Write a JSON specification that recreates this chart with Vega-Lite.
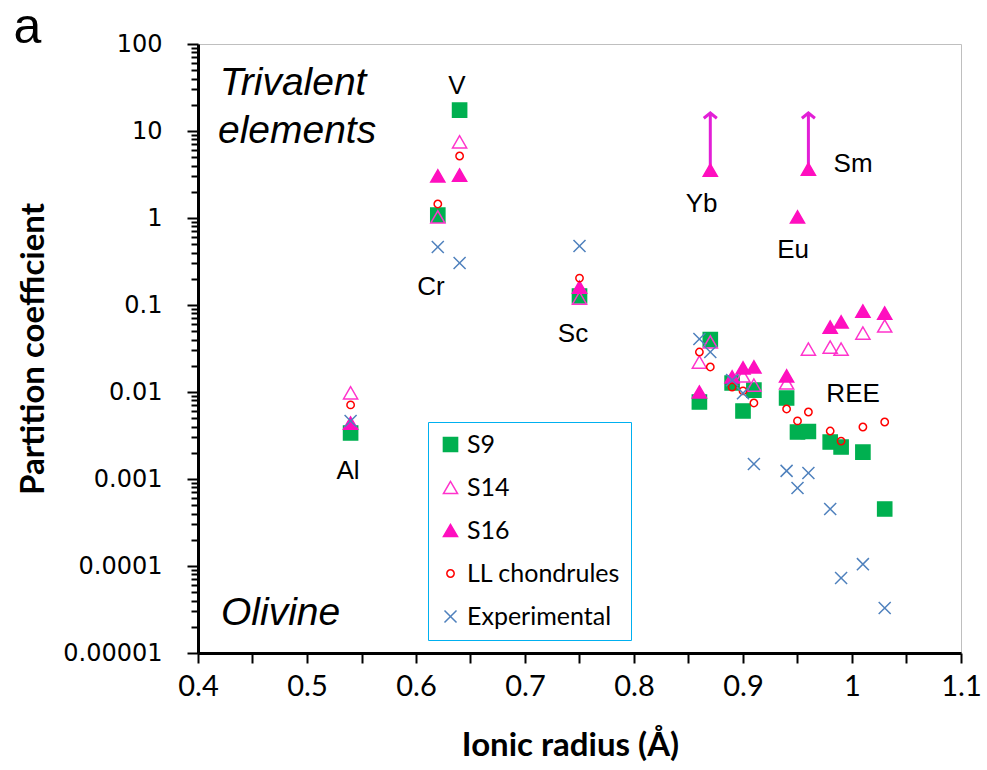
{
  "$schema": "https://vega.github.io/schema/vega-lite/v6.json",
  "width": 763,
  "height": 609,
  "autosize": {"type": "none"},
  "padding": {"left": 198, "top": 44, "right": 26, "bottom": 117},
  "background": "white",
  "config": {
    "view": {"stroke": "#bfbfbf", "strokeWidth": 1},
    "legend": {"strokeColor": "#00b0f0", "fillColor": "white", "padding": 10, "rowPadding": 17, "labelFont": "Lato", "labelFontSize": 25, "labelColor": "black", "labelOffset": 4, "labelLimit": 0, "symbolStrokeWidth": 1.5, "symbolSize": 200}
  },
  "datasets": {
    "points": [
      {"series": "S9", "radius": 0.54, "D": 0.00338},
      {"series": "S9", "radius": 0.62, "D": 1.08},
      {"series": "S9", "radius": 0.64, "D": 17.4},
      {"series": "S9", "radius": 0.75, "D": 0.127},
      {"series": "S9", "radius": 0.86, "D": 0.00767},
      {"series": "S9", "radius": 0.87, "D": 0.040},
      {"series": "S9", "radius": 0.89, "D": 0.0127},
      {"series": "S9", "radius": 0.90, "D": 0.00605},
      {"series": "S9", "radius": 0.91, "D": 0.0105},
      {"series": "S9", "radius": 0.94, "D": 0.00853},
      {"series": "S9", "radius": 0.95, "D": 0.00347},
      {"series": "S9", "radius": 0.96, "D": 0.00352},
      {"series": "S9", "radius": 0.98, "D": 0.00266},
      {"series": "S9", "radius": 0.99, "D": 0.00233},
      {"series": "S9", "radius": 1.01, "D": 0.00204},
      {"series": "S9", "radius": 1.03, "D": 0.000452},
      {"series": "S14", "radius": 0.54, "D": 0.0098},
      {"series": "S14", "radius": 0.62, "D": 1.03},
      {"series": "S14", "radius": 0.64, "D": 7.5},
      {"series": "S14", "radius": 0.75, "D": 0.120},
      {"series": "S14", "radius": 0.86, "D": 0.0221},
      {"series": "S14", "radius": 0.87, "D": 0.0376},
      {"series": "S14", "radius": 0.90, "D": 0.0153},
      {"series": "S14", "radius": 0.91, "D": 0.0120},
      {"series": "S14", "radius": 0.94, "D": 0.0127},
      {"series": "S14", "radius": 0.96, "D": 0.0312},
      {"series": "S14", "radius": 0.98, "D": 0.0329},
      {"series": "S14", "radius": 0.99, "D": 0.0312},
      {"series": "S14", "radius": 1.01, "D": 0.0476},
      {"series": "S14", "radius": 1.03, "D": 0.0574},
      {"series": "S16", "radius": 0.54, "D": 0.0044},
      {"series": "S16", "radius": 0.62, "D": 3.04},
      {"series": "S16", "radius": 0.64, "D": 3.12},
      {"series": "S16", "radius": 0.75, "D": 0.161},
      {"series": "S16", "radius": 0.86, "D": 0.0100},
      {"series": "S16", "radius": 0.87, "D": 3.56},
      {"series": "S16", "radius": 0.89, "D": 0.0149},
      {"series": "S16", "radius": 0.90, "D": 0.0189},
      {"series": "S16", "radius": 0.91, "D": 0.0194},
      {"series": "S16", "radius": 0.94, "D": 0.0153},
      {"series": "S16", "radius": 0.95, "D": 1.03},
      {"series": "S16", "radius": 0.96, "D": 3.65},
      {"series": "S16", "radius": 0.98, "D": 0.0558},
      {"series": "S16", "radius": 0.99, "D": 0.0638},
      {"series": "S16", "radius": 1.01, "D": 0.0853},
      {"series": "S16", "radius": 1.03, "D": 0.0809},
      {"series": "LL chondrules", "radius": 0.54, "D": 0.0071},
      {"series": "LL chondrules", "radius": 0.62, "D": 1.45},
      {"series": "LL chondrules", "radius": 0.64, "D": 5.16},
      {"series": "LL chondrules", "radius": 0.75, "D": 0.204},
      {"series": "LL chondrules", "radius": 0.86, "D": 0.0288},
      {"series": "LL chondrules", "radius": 0.87, "D": 0.0194},
      {"series": "LL chondrules", "radius": 0.89, "D": 0.0114},
      {"series": "LL chondrules", "radius": 0.90, "D": 0.0103},
      {"series": "LL chondrules", "radius": 0.91, "D": 0.00748},
      {"series": "LL chondrules", "radius": 0.94, "D": 0.00638},
      {"series": "LL chondrules", "radius": 0.95, "D": 0.00465},
      {"series": "LL chondrules", "radius": 0.96, "D": 0.00589},
      {"series": "LL chondrules", "radius": 0.98, "D": 0.00356},
      {"series": "LL chondrules", "radius": 0.99, "D": 0.00273},
      {"series": "LL chondrules", "radius": 1.01, "D": 0.00396},
      {"series": "LL chondrules", "radius": 1.03, "D": 0.00452},
      {"series": "Experimental", "radius": 0.54, "D": 0.00465},
      {"series": "Experimental", "radius": 0.62, "D": 0.465},
      {"series": "Experimental", "radius": 0.64, "D": 0.304},
      {"series": "Experimental", "radius": 0.75, "D": 0.477},
      {"series": "Experimental", "radius": 0.86, "D": 0.0407},
      {"series": "Experimental", "radius": 0.87, "D": 0.0288},
      {"series": "Experimental", "radius": 0.89, "D": 0.0137},
      {"series": "Experimental", "radius": 0.90, "D": 0.0097},
      {"series": "Experimental", "radius": 0.91, "D": 0.00149},
      {"series": "Experimental", "radius": 0.94, "D": 0.00124},
      {"series": "Experimental", "radius": 0.95, "D": 0.000789},
      {"series": "Experimental", "radius": 0.96, "D": 0.00117},
      {"series": "Experimental", "radius": 0.98, "D": 0.000452},
      {"series": "Experimental", "radius": 0.99, "D": 0.0000728},
      {"series": "Experimental", "radius": 1.01, "D": 0.000105},
      {"series": "Experimental", "radius": 1.03, "D": 0.0000329}
    ],
    "arrows": [
      {"radius": 0.87, "D": 3.56, "D2": 16.1},
      {"radius": 0.96, "D": 3.65, "D2": 16.1}
    ],
    "labels": [
      {"label": "V", "radius": 0.6376, "D": 26.6},
      {"label": "Cr", "radius": 0.6138, "D": 0.130},
      {"label": "Sc", "radius": 0.744, "D": 0.0376},
      {"label": "Yb", "radius": 0.862, "D": 1.17},
      {"label": "Eu", "radius": 0.946, "D": 0.347},
      {"label": "Sm", "radius": 1.001, "D": 3.38},
      {"label": "REE", "radius": 1.001, "D": 0.00767},
      {"label": "Al", "radius": 0.5376, "D": 0.001}
    ],
    "notes": [
      {"label": "Trivalent", "radius": 0.420, "D": 25.9},
      {"label": "elements", "radius": 0.4183, "D": 7.28},
      {"label": "Olivine", "radius": 0.4211, "D": 0.000021}
    ],
    "panel": [
      {"label": "a", "radius": 0.2435, "D": 102}
    ]
  },
  "encoding": {
    "x": {
      "field": "radius", "type": "quantitative",
      "scale": {"domain": [0.4, 1.1], "nice": false, "zero": false},
      "axis": {
        "title": "Ionic radius (Å)",
        "values": [0.4, 0.45, 0.5, 0.55, 0.6, 0.65, 0.7, 0.75, 0.8, 0.85, 0.9, 0.95, 1.0, 1.05, 1.1],
        "labelExpr": "abs(datum.value*10 - round(datum.value*10)) < 0.01 ? format(datum.value, '.1~f') : ''",
        "labelOverlap": false, "labelFlush": false,
        "grid": false,
        "tickSize": 10, "tickWidth": 2, "tickColor": "black",
        "domainColor": "black", "domainWidth": 3,
        "labelFont": "Lato", "labelFontSize": 29, "labelColor": "black", "labelPadding": 9,
        "titleFont": "Lato", "titleFontSize": 33, "titleFontWeight": "bold", "titleColor": "black", "titlePadding": 28,
        "titleX": 372, "titleAlign": "center"
      }
    },
    "y": {
      "field": "D", "type": "quantitative",
      "scale": {"type": "log", "domain": [0.00001, 100], "nice": false},
      "axis": {
        "title": "Partition coefficient",
        "values": [0.00001, 0.00002, 0.00003, 0.00004, 0.00005, 0.00006, 0.00007, 0.00008, 0.00009,
                   0.0001, 0.0002, 0.0003, 0.0004, 0.0005, 0.0006, 0.0007, 0.0008, 0.0009,
                   0.001, 0.002, 0.003, 0.004, 0.005, 0.006, 0.007, 0.008, 0.009,
                   0.01, 0.02, 0.03, 0.04, 0.05, 0.06, 0.07, 0.08, 0.09,
                   0.1, 0.2, 0.3, 0.4, 0.5, 0.6, 0.7, 0.8, 0.9,
                   1, 2, 3, 4, 5, 6, 7, 8, 9,
                   10, 20, 30, 40, 50, 60, 70, 80, 90, 100],
        "labelExpr": "abs(log(datum.value)/LN10 - round(log(datum.value)/LN10)) < 0.001 ? (datum.value >= 1 ? format(datum.value, 'd') : format(datum.value, '.' + round(-log(datum.value)/LN10) + 'f')) : ''",
        "labelOverlap": false, "labelFlush": false,
        "grid": false,
        "tickSize": {"condition": {"test": "abs(log(datum.value)/LN10 - round(log(datum.value)/LN10)) < 0.001", "value": 11}, "value": 7},
        "tickWidth": 2, "tickColor": "black",
        "domainColor": "black", "domainWidth": 3,
        "labelFont": "DejaVu Sans", "labelFontSize": 24, "labelColor": "black", "labelPadding": 25,
        "titleFont": "Lato", "titleFontSize": 33, "titleFontWeight": "bold", "titleColor": "black", "titlePadding": 12
      }
    }
  },
  "layer": [
    {
      "data": {"name": "arrows"},
      "mark": {"type": "rule", "stroke": "#e21fd6", "strokeWidth": 3},
      "encoding": {"y2": {"field": "D2"}}
    },
    {
      "data": {"name": "arrows"},
      "mark": {"type": "point", "shape": "M-1,0.8L0,0L1,0.8", "filled": false, "stroke": "#e21fd6", "strokeWidth": 3, "size": 170, "opacity": 1},
      "encoding": {"y": {"field": "D2", "type": "quantitative"}}
    },
    {
      "data": {"name": "points"},
      "mark": {"type": "point", "opacity": 1, "strokeWidth": 1.5, "size": 200},
      "encoding": {
        "shape": {"field": "series", "type": "nominal",
          "scale": {"domain": ["S9", "S14", "S16", "LL chondrules", "Experimental"], "range": ["square", "triangle-up", "triangle-up", "M0.52,0A0.52,0.52 0 1,1 -0.52,0A0.52,0.52 0 1,1 0.52,0Z", "M-0.85,-0.85L0.85,0.85M0.85,-0.85L-0.85,0.85"]},
          "legend": {"title": null, "orient": "none", "legendX": 230, "legendY": 378}},
        "fill": {"field": "series", "type": "nominal",
          "scale": {"domain": ["S9", "S14", "S16", "LL chondrules", "Experimental"], "range": ["#00b050", "transparent", "#ff0fbf", "transparent", "transparent"]},
          "legend": {"title": null, "orient": "none", "legendX": 230, "legendY": 378}},
        "stroke": {"field": "series", "type": "nominal",
          "scale": {"domain": ["S9", "S14", "S16", "LL chondrules", "Experimental"], "range": ["#00b050", "#ff33cc", "#ff0fbf", "#ff0000", "#4f81bd"]},
          "legend": {"title": null, "orient": "none", "legendX": 230, "legendY": 378}}
      }
    },
    {
      "data": {"name": "labels"},
      "mark": {"type": "text", "font": "Liberation Sans", "fontSize": 26, "align": "center", "baseline": "alphabetic", "color": "black"},
      "encoding": {"text": {"field": "label"}}
    },
    {
      "data": {"name": "notes"},
      "mark": {"type": "text", "font": "Liberation Sans", "fontSize": 39, "fontStyle": "italic", "align": "left", "baseline": "alphabetic", "color": "black"},
      "encoding": {"text": {"field": "label"}}
    },
    {
      "data": {"name": "panel"},
      "mark": {"type": "text", "font": "Liberation Sans", "fontSize": 50, "align": "center", "baseline": "alphabetic", "color": "black", "clip": false},
      "encoding": {"text": {"field": "label"}}
    }
  ]
}
